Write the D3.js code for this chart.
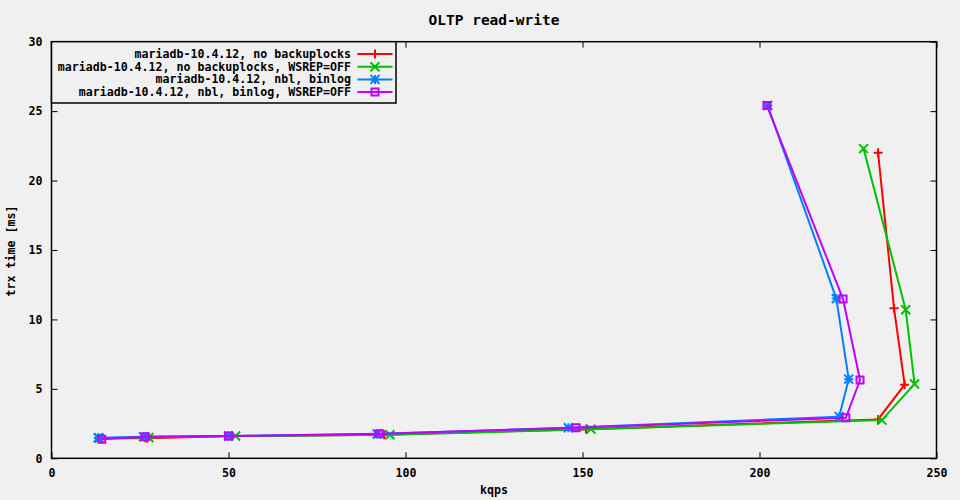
<!DOCTYPE html>
<html><head><meta charset="utf-8">
<script src="https://cdn.jsdelivr.net/npm/d3@7"></script>
<style>body{margin:0;background:#f0f0f0}svg{display:block}text{font-family:"DejaVu Sans Mono",monospace;font-weight:bold;font-size:11.6px;fill:#000}</style>
</head><body><svg id="c" width="960" height="500"></svg>
<script>
const title = "OLTP read-write";
const xLabel = "kqps";
const yLabel = "trx time [ms]";
const seriesNames = [
  "mariadb-10.4.12, no backuplocks",
  "mariadb-10.4.12, no backuplocks, WSREP=OFF",
  "mariadb-10.4.12, nbl, binlog",
  "mariadb-10.4.12, nbl, binlog, WSREP=OFF"
];
const seriesColors = ["#ff0000", "#00c000", "#0080ff", "#c000ff"];
const seriesMarkers = ["plus", "cross", "star", "square"];
const kqpsNoBackup = [13.5, 27, 51, 94, 151, 233.5, 241, 238, 233.5];
const trxNoBackup = [1.45, 1.45, 1.6, 1.7, 2.1, 2.8, 5.3, 10.8, 22.0];
const kqpsNoBackupOff = [13.5, 27.5, 52, 95.6, 152.4, 234.6, 243.8, 241.3, 229.4];
const trxNoBackupOff = [1.45, 1.5, 1.6, 1.7, 2.1, 2.75, 5.35, 10.7, 22.3];
const kqpsNblBinlog = [13.2, 26, 50, 92, 146, 222.5, 225.2, 221.7, 202.3];
const trxNblBinlog = [1.48, 1.55, 1.6, 1.75, 2.2, 3.0, 5.7, 11.5, 25.4];
const kqpsNblBinlogOff = [14.2, 26.5, 50, 92.6, 148.2, 224.4, 228.4, 223.6, 202.1];
const trxNblBinlogOff = [1.37, 1.56, 1.6, 1.77, 2.2, 2.92, 5.64, 11.47, 25.4];
const xTicks = [0, 50, 100, 150, 200, 250];
const yTicks = [0, 5, 10, 15, 20, 25, 30];

const seriesX = [kqpsNoBackup, kqpsNoBackupOff, kqpsNblBinlog, kqpsNblBinlogOff];
const seriesY = [trxNoBackup, trxNoBackupOff, trxNblBinlog, trxNblBinlogOff];

const svg = d3.select("#c");
const L = 51.5, R = 936.5, T = 41.7, B = 458.3;
const x = d3.scaleLinear().domain([0, 250]).range([L, R]);
const y = d3.scaleLinear().domain([0, 30]).range([B, T]);
const cx0 = (L + R) / 2;

svg.append("rect").attr("width", 960).attr("height", 500).attr("fill", "#f0f0f0");

// axes with inward ticks
const tl = 6;
svg.append("g").attr("transform", `translate(0,${B})`)
  .call(d3.axisBottom(x).tickValues(xTicks).tickSize(-tl).tickPadding(10).tickFormat(d3.format("d")))
  .call(g => { g.select(".domain").remove(); g.selectAll("text").attr("dy", "0.71em"); });
svg.append("g").attr("transform", `translate(0,${T})`)
  .call(d3.axisTop(x).tickValues(xTicks).tickSize(-tl).tickFormat(""))
  .call(g => g.select(".domain").remove());
svg.append("g").attr("transform", `translate(${L},0)`)
  .call(d3.axisLeft(y).tickValues(yTicks).tickSize(-tl).tickPadding(9).tickFormat(d3.format("d")))
  .call(g => g.select(".domain").remove());
svg.append("g").attr("transform", `translate(${R},0)`)
  .call(d3.axisRight(y).tickValues(yTicks).tickSize(-tl).tickFormat(""))
  .call(g => g.select(".domain").remove());
svg.selectAll(".tick line").attr("stroke", "#000");
svg.selectAll(".tick text").style("font-family", '"DejaVu Sans Mono",monospace').style("font-size", "11.6px").style("font-weight", "bold");

// frame
svg.append("rect").attr("x", L).attr("y", T).attr("width", R - L).attr("height", B - T)
  .attr("fill", "none").attr("stroke", "#000").attr("stroke-width", 1.5);

// titles
svg.append("text").attr("x", cx0).attr("y", 25).attr("text-anchor", "middle")
  .style("font-size", "14.5px").text(title);
svg.append("text").attr("x", cx0).attr("y", 494).attr("text-anchor", "middle").text(xLabel);
svg.append("text").attr("transform", "translate(15,251) rotate(-90)").attr("text-anchor", "middle").text(yLabel);

function marker(g, type, cx, cy, color) {
  const s = 4.5;
  const p = g.append("path").attr("fill", "none").attr("stroke", color).attr("stroke-width", 2);
  let d = "";
  if (type === "plus" || type === "star") d += `M${cx - s},${cy}H${cx + s}M${cx},${cy - s}V${cy + s}`;
  if (type === "cross" || type === "star") d += `M${cx - s},${cy - s}L${cx + s},${cy + s}M${cx - s},${cy + s}L${cx + s},${cy - s}`;
  if (type === "square") d = `M${cx - 3.5},${cy - 3.5}h7v7h-7Z`;
  p.attr("d", d);
}

const line = d3.line().x(d => x(d[0])).y(d => y(d[1]));
const plot = svg.append("g");
seriesNames.forEach((name, i) => {
  const pts = seriesX[i].map((v, j) => [v, seriesY[i][j]]);
  const g = plot.append("g");
  g.append("path").datum(pts).attr("d", line).attr("fill", "none")
    .attr("stroke", seriesColors[i]).attr("stroke-width", 2);
  pts.forEach(p => marker(g, seriesMarkers[i], x(p[0]), y(p[1]), seriesColors[i]));
});

// legend
const lg = svg.append("g");
lg.append("rect").attr("x", L).attr("y", T).attr("width", 396 - L).attr("height", 103 - T)
  .attr("fill", "#f0f0f0").attr("stroke", "#000").attr("stroke-width", 1.5);
seriesNames.forEach((name, i) => {
  const cy = 54 + i * 12.7;
  lg.append("text").attr("x", 351).attr("y", cy).attr("dy", "0.35em").attr("text-anchor", "end").text(name);
  lg.append("line").attr("x1", 357.5).attr("x2", 392.5).attr("y1", cy).attr("y2", cy)
    .attr("stroke", seriesColors[i]).attr("stroke-width", 2);
  marker(lg, seriesMarkers[i], 375, cy, seriesColors[i]);
});
</script></body></html>
